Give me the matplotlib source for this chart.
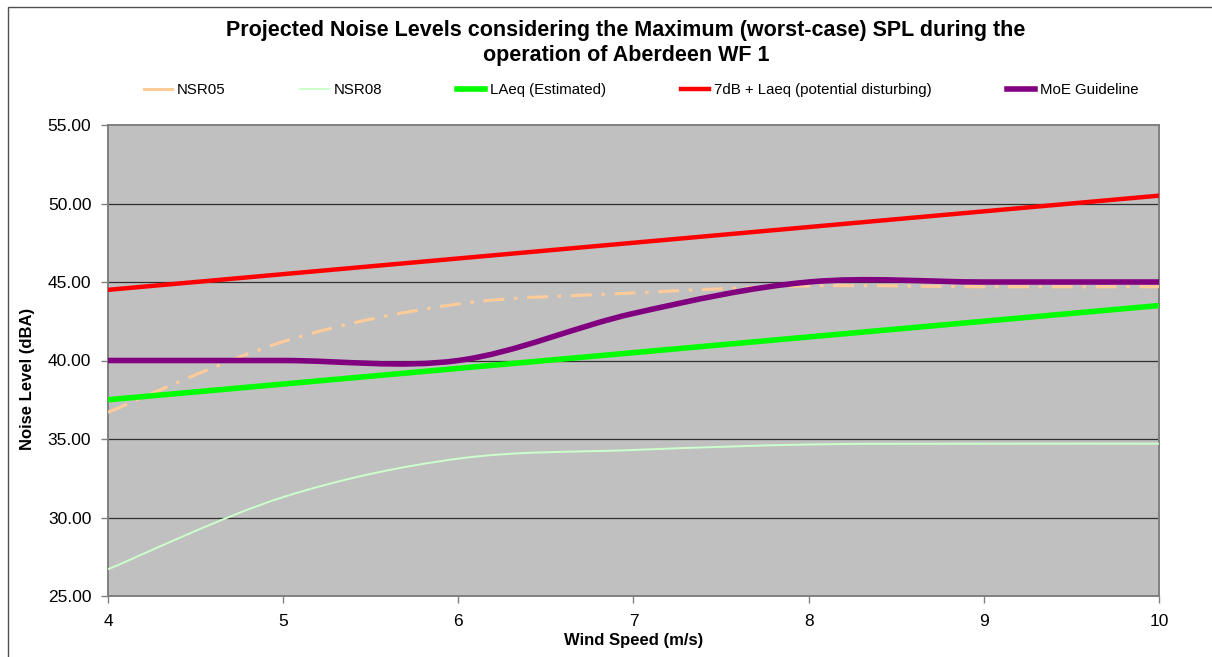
import numpy as np
import matplotlib
matplotlib.use('Agg')
import matplotlib.pyplot as plt
from matplotlib.path import Path
from matplotlib.patches import PathPatch, Rectangle
from matplotlib.lines import Line2D

plt.rcParams['font.family'] = ['Liberation Sans', 'DejaVu Sans']
plt.rcParams['lines.scale_dashes'] = False

# datos
wind_speed = [4, 5, 6, 7, 8, 9, 10]
nsr05 = [36.7, 41.2, 43.6, 44.3, 44.75, 44.7, 44.7]
nsr08 = [26.7, 31.3, 33.75, 34.3, 34.65, 34.7, 34.7]
laeq = [37.5, 38.5, 39.5, 40.5, 41.5, 42.5, 43.5]
laeq_7db = [44.5, 45.5, 46.5, 47.5, 48.5, 49.5, 50.5]
moe = [40, 40, 40, 43, 45, 45, 45]

y_ticks = [25, 30, 35, 40, 45, 50, 55]

series_names = ['NSR05', 'NSR08', 'LAeq (Estimated)', '7dB + Laeq (potential disturbing)', 'MoE Guideline']


def excel_smooth(x, y):
    # curva suavizada tipo Excel (bezier con tangentes catmull-rom)
    pts = np.column_stack([x, y]).astype(float)
    n = len(pts)
    verts = [pts[0]]
    codes = [Path.MOVETO]
    for i in range(n - 1):
        p_prev = pts[max(i - 1, 0)]
        p_next2 = pts[min(i + 2, n - 1)]
        c1 = pts[i] + (pts[i + 1] - p_prev) / 6
        c2 = pts[i + 1] - (p_next2 - pts[i]) / 6
        verts += [c1, c2, pts[i + 1]]
        codes += [Path.CURVE4] * 3
    return Path(verts, codes)


fig = plt.figure(figsize=(12.12, 6.57), dpi=100)
ax = fig.add_axes([108 / 1212, 1 - 596 / 657, (1159 - 108) / 1212, (596 - 125) / 657])
ax.set_facecolor('#C0C0C0')

estilos = [
    (nsr05, '#FFCC99', 2.2, (0, (15, 7, 2.5, 7))),
    (nsr08, '#CCFFCC', 1.4, '-'),
    (laeq, '#00FF00', 4.0, '-'),
    (laeq_7db, '#FF0000', 3.2, '-'),
    (moe, '#800080', 4.0, '-'),
]

for i, (datos, color, lw, ls) in enumerate(estilos):
    patch = PathPatch(excel_smooth(wind_speed, datos), fill=False, edgecolor=color,
                      lw=lw, linestyle=ls, capstyle='butt', joinstyle='round', zorder=3 + i)
    ax.add_patch(patch)

ax.set_xlim(4, 10)
ax.set_ylim(25, 55)
ax.set_xticks(wind_speed)
ax.set_yticks(y_ticks)
ax.set_yticklabels([f'{v:.2f}' for v in y_ticks])

for v in y_ticks[1:-1]:
    ax.axhline(v, color='#303030', lw=0.9, zorder=1)

for s in ax.spines.values():
    s.set_color('#808080')
    s.set_linewidth(1.4)

ax.tick_params(axis='both', direction='out', length=5, width=1, color='#808080',
               labelsize=12.5, labelcolor='black')
ax.tick_params(axis='y', pad=7)
ax.tick_params(axis='x', pad=8)

ax.set_xlabel('Wind Speed (m/s)', fontsize=12, fontweight='bold', labelpad=3)
fig.text(28 / 1212, 1 - 379 / 657, 'Noise Level (dBA)', rotation=90, fontsize=12,
         fontweight='bold', ha='center', va='center')

fig.text(626 / 1212, 1 - 43 / 657,
         'Projected Noise Levels considering the Maximum (worst-case) SPL during the\noperation of Aberdeen WF 1',
         ha='center', va='center', fontsize=15.5, fontweight='bold', linespacing=1.2)

handles = [
    Line2D([], [], color='#FFCC99', lw=2.2),
    Line2D([], [], color='#CCFFCC', lw=1.4),
    Line2D([], [], color='#00FF00', lw=4),
    Line2D([], [], color='#FF0000', lw=3.2),
    Line2D([], [], color='#800080', lw=4),
]
fig.legend(handles, series_names, loc='center', bbox_to_anchor=(641 / 1212, 1 - 90 / 657),
           ncol=5, frameon=False, fontsize=10.8, handlelength=1.9, handletextpad=0.3,
           columnspacing=5.0)

# marco exterior del grafico
fig.patches.append(Rectangle((8 / 1212, -0.1), 1.2, 1 - 7 / 657 + 0.1, transform=fig.transFigure,
                             fill=False, edgecolor='#505050', lw=1.0))

plt.savefig('out.png', dpi=100)
